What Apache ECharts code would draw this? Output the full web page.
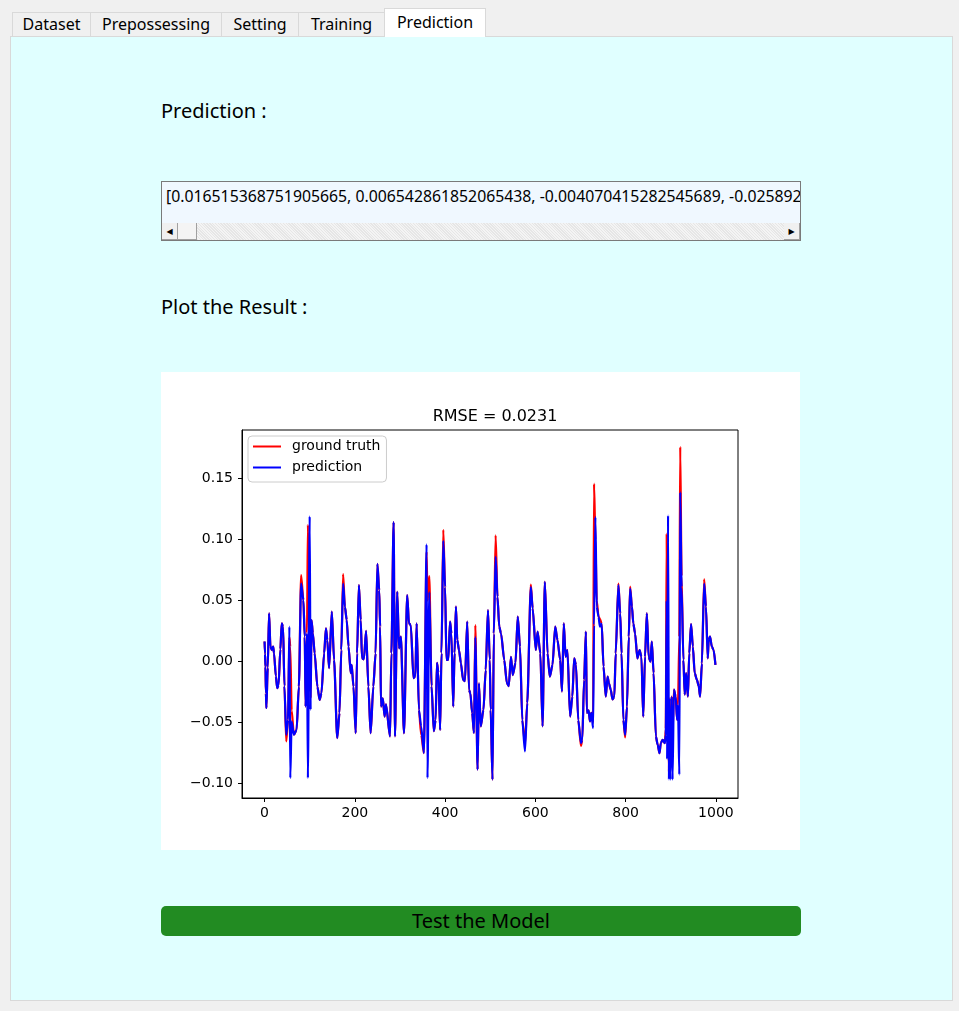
<!DOCTYPE html>
<html>
<head>
<meta charset="utf-8">
<script src="https://cdn.jsdelivr.net/npm/echarts@6/dist/echarts.min.js"></script>
<style>
  body { margin: 0; width: 959px; height: 1011px; background: #f0f0f0; position: relative; overflow: hidden;
         font-family: "Noto Sans", "DejaVu Sans", sans-serif; }
  .tab { position: absolute; top: 12px; height: 24px; box-sizing: border-box; border: 1px solid #d9d9d9; border-bottom: none;
         background: #f0f0f0; font-size: 16px; line-height: 22px; text-align: center; color: #000; }
  .tab.sel { top: 8px; height: 29px; background: #fff; line-height: 27px; z-index: 2; }
  #panel { position: absolute; left: 10px; top: 36px; width: 943px; height: 965px; box-sizing: border-box;
           background: #e0ffff; border: 1px solid #d9d9d9; }
  .lbl { position: absolute; left: 161px; font-size: 20px; line-height: 24px; color: #000; }
  #box { position: absolute; left: 161px; top: 181px; width: 640px; height: 60px; box-sizing: border-box;
         border: 1px solid #7a7a7a; background: #f0f8ff; overflow: hidden; }
  #box .txt { position: absolute; left: 4px; top: 4px; white-space: nowrap; font-size: 15.8px; line-height: 20px; color: #000; }
  #box .bar { position: absolute; left: 0; right: 0; bottom: 0; height: 17px;
              background: repeating-linear-gradient(45deg, #f4f4f4 0 1px, #e6e6e6 1px 2px); }
  #box .btn { position: absolute; bottom: 0; width: 16px; height: 17px; box-sizing: border-box; background: #f0f0f0;
              border-right: 1px solid #a0a0a0; border-bottom: 1px solid #a0a0a0; font-size: 8px; line-height: 16px; text-align: center; }
  #chart { position: absolute; left: 161px; top: 372px; width: 639px; height: 478px; background: #fff; }
  #test { position: absolute; left: 161px; top: 906px; width: 640px; height: 30px; background: #228b22; border-radius: 5px;
          font-size: 20px; line-height: 30px; text-align: center; color: #000; }
</style>
</head>
<body>
<div class="tab" style="left:12px;width:79px">Dataset</div>
<div class="tab" style="left:90px;width:132px">Prepossessing</div>
<div class="tab" style="left:221px;width:78px">Setting</div>
<div class="tab" style="left:298px;width:87px">Training</div>
<div class="tab sel" style="left:384px;width:102px">Prediction</div>
<div id="panel"></div>
<div class="lbl" style="top:99px">Prediction :</div>
<div id="box">
  <div class="txt">[0.016515368751905665, 0.006542861852065438, -0.004070415282545689, -0.025892</div>
  <div class="bar"></div>
  <div class="btn" style="left:0">&#9664;</div>
  <div class="btn" style="left:16px;width:19px;background:#f4f4f4"></div>
  <div class="btn" style="right:0">&#9654;</div>
</div>
<div class="lbl" style="top:295px">Plot the Result :</div>
<div id="chart"></div>
<div id="test">Test the Model</div>
<script>
// sample index of each knot
const xs = [
  0, 1, 2, 3, 4, 7, 10, 13, 16, 19,
  21, 25, 28, 31, 35, 38, 41, 44, 48, 52,
  55, 57, 60, 65, 71, 76, 81, 86, 89, 91,
  94, 96, 100, 102, 104, 107, 111, 117, 122, 126,
  132, 136, 139, 143, 149, 154, 161, 166, 170, 174,
  178, 182, 186, 191, 193, 197, 202, 205, 209, 213,
  216, 220, 225, 230, 235, 241, 246, 250, 254, 256,
  258, 262, 266, 269, 278, 281, 286, 289, 294, 298,
  302, 309, 316, 320, 324, 330, 334, 337, 342, 347,
  353, 359, 361, 365, 370, 375, 379, 382, 385, 389,
  392, 396, 400, 403, 407, 411, 414, 418, 421, 424,
  427, 431, 435, 440, 444, 449, 453, 456, 460, 464,
  467, 472, 475, 479, 485, 490, 495, 499, 501, 505,
  508, 512, 516, 520, 524, 531, 537, 541, 546, 550,
  556, 561, 566, 571, 577, 582, 590, 594, 601, 605,
  611, 616, 621, 627, 632, 638, 644, 649, 655, 659,
  663, 667, 671, 677, 682, 686, 690, 695, 701, 704,
  708, 712, 714, 718, 721, 724, 728, 730, 733, 736,
  740, 743, 747, 751, 756, 760, 763, 767, 771, 775,
  778, 784, 788, 791, 795, 799, 803, 807, 810, 814,
  817, 821, 826, 831, 835, 839, 843, 847, 851, 855,
  858, 862, 867, 871, 875, 878, 882, 887, 889, 891,
  892, 894, 896, 897, 899, 902, 904, 907, 911, 914,
  916, 919, 921, 924, 928, 931, 934, 938, 941, 945,
  949, 953, 958, 962, 965, 969, 974, 978, 982, 984,
  987, 991, 995, 999
];

const groundTruth = [
  0.0165, 0.0065, -0.0041, -0.0259, -0.038, -0.005, 0.0395, 0.0123, 0.0095, 0.0123,
  0.0068, -0.012, -0.0218, -0.0191, 0.010, 0.0313, 0.0286, -0.020, -0.0654, -0.0477,
  0.020, 0.012, -0.040, -0.0599, -0.0558, -0.0204, 0.0708, 0.0504, 0.0204, -0.0368,
  0.0231, 0.112, 0.040, -0.030, 0.0341, 0.0231, 0.0068, -0.0204, -0.0313, -0.0259,
  0.0068, 0.0272, 0.0177, -0.0054, 0.0409, 0.0014, -0.0626, -0.0422, 0.0095, 0.0716,
  0.045, 0.0341, 0.0123, -0.0095, -0.0027, -0.0204, -0.0586, 0.0068, 0.0627, 0.0341,
  0.0027, 0.0019, 0.0253, -0.0204, -0.0586, -0.0204, 0.0068, 0.0801, 0.0586, 0.0286,
  -0.0368, -0.03, -0.045, -0.035, -0.0613, 0.0068, 0.1143, -0.0613, 0.0572, 0.0109,
  0.0204, -0.0586, 0.0545, 0.0313, 0.030, -0.0136, -0.012, 0.0313, -0.0395, -0.060,
  -0.0749, 0.090, 0.050, 0.070, -0.020, -0.057, -0.048, -0.001, -0.009, -0.056,
  0.007, 0.108, 0.061, 0.0014, 0.0014, 0.0327, 0.023, -0.0368, 0.007, 0.045,
  0.0177, 0.009, -0.0014, -0.015, -0.016, 0.0327, -0.0231, -0.026, -0.042, -0.0586,
  0.030, -0.0885, -0.0177, -0.053, -0.0395, -0.0068, 0.0422, 0.0014, -0.0395, -0.0967,
  0.023, 0.1035, 0.053, 0.0286, 0.023, 0.0014, -0.0177, -0.020, 0.004, -0.011,
  -0.001, 0.0368, 0.012, -0.0477, -0.068, -0.034, 0.063, 0.0436, 0.0095, 0.0245,
  0.0068, -0.053, 0.0654, 0.0068, -0.0123, -0.0027, 0.0286, 0.0177, 0.0014, -0.0245,
  0.0313, 0.0041, 0.0095, -0.045, -0.0286, 0.0027, -0.0027, -0.0477, -0.069, -0.064,
  -0.015, 0.0245, -0.042, -0.040, -0.049, -0.042, -0.050, 0.1457, 0.100, 0.050,
  0.0368, 0.035, 0.031, -0.004, -0.0286, -0.0123, -0.0177, -0.023, -0.031, -0.0286,
  0.0068, 0.064, 0.0395, 0.0068, -0.0477, -0.062, -0.0368, 0.0204, 0.0615, 0.045,
  0.0313, 0.023, 0.0027, 0.0095, 0.004, -0.045, 0.004, 0.0395, 0.004, 0.000,
  0.0163, -0.0095, -0.0613, -0.068, -0.075, -0.0667, -0.064, -0.0667, -0.055, 0.1048,
  0.000, -0.040, -0.090, -0.030, -0.085, -0.0286, -0.060, -0.023, -0.0286, -0.0477,
  -0.036, 0.020, 0.176, 0.070, 0.0014, -0.027, -0.0095, -0.0286, 0.0068, 0.0308,
  0.0123, -0.0095, -0.015, -0.020, -0.0286, -0.0014, 0.0675, 0.045, 0.0027, 0.0177,
  0.0204, 0.0123, 0.0095, -0.0027
];

const prediction = [
  0.0165, 0.0065, -0.0041, -0.0259, -0.038, -0.005, 0.0395, 0.0123, 0.0095, 0.0123,
  0.0068, -0.012, -0.0218, -0.0191, 0.010, 0.0313, 0.0286, -0.020, -0.0599, -0.0477,
  0.0286, -0.0953, -0.049, -0.0599, -0.0558, -0.0204, 0.064, 0.0504, 0.0204, -0.0368,
  0.0231, -0.0953, 0.119, -0.0395, 0.0341, 0.0231, 0.0068, -0.0204, -0.0313, -0.0259,
  0.0068, 0.0272, 0.0177, -0.0054, 0.0409, 0.0014, -0.0626, -0.0422, 0.0095, 0.064,
  0.045, 0.0341, 0.0123, -0.0095, -0.0027, -0.0204, -0.0586, 0.0068, 0.0627, 0.0341,
  0.0027, 0.0019, 0.0253, -0.0204, -0.0586, -0.0204, 0.0068, 0.0801, 0.0586, 0.0286,
  -0.0368, -0.03, -0.045, -0.035, -0.0613, 0.0068, 0.1143, -0.0613, 0.0572, 0.0109,
  0.0204, -0.0586, 0.0545, 0.0313, 0.030, -0.0136, -0.012, 0.0313, -0.0395, -0.0531,
  -0.0749, 0.096, -0.0953, 0.057, -0.020, -0.057, -0.048, -0.001, -0.009, -0.056,
  0.007, 0.099, 0.061, 0.0014, 0.0014, 0.0327, 0.023, -0.0368, 0.007, 0.045,
  0.0177, 0.009, -0.0014, -0.015, -0.016, 0.0327, -0.0231, -0.026, -0.042, -0.0586,
  0.020, -0.0885, -0.0177, -0.053, -0.0395, -0.0068, 0.0422, 0.0014, -0.0395, -0.0967,
  0.023, 0.0858, 0.053, 0.0286, 0.023, 0.0014, -0.0177, -0.020, 0.004, -0.011,
  -0.001, 0.0368, 0.012, -0.0477, -0.0735, -0.034, 0.061, 0.0436, 0.0095, 0.0245,
  0.0068, -0.053, 0.0654, 0.0068, -0.0123, -0.0027, 0.0286, 0.0177, 0.0014, -0.0245,
  0.0313, 0.0041, 0.0095, -0.045, -0.0286, 0.0027, -0.0027, -0.0477, -0.0667, -0.064,
  -0.015, 0.0245, -0.042, -0.040, -0.049, -0.042, -0.0545, 0.030, 0.1185, 0.045,
  0.0368, 0.0286, 0.031, -0.004, -0.0286, -0.0123, -0.0177, -0.023, -0.031, -0.0286,
  0.0068, 0.0626, 0.0395, 0.0068, -0.0477, -0.060, -0.0368, 0.0204, 0.0599, 0.045,
  0.0313, 0.023, 0.0027, 0.0095, 0.004, -0.045, 0.004, 0.0395, 0.004, 0.000,
  0.0163, -0.0095, -0.0613, -0.068, -0.075, -0.0667, -0.064, -0.0667, -0.060, 0.050,
  -0.080, 0.1198, -0.0967, -0.030, -0.0967, -0.0286, -0.0967, -0.023, -0.0286, -0.0477,
  -0.036, -0.0926, 0.1389, 0.061, 0.0014, -0.027, -0.0095, -0.0286, 0.0068, 0.0308,
  0.0123, -0.0095, -0.015, -0.020, -0.0286, -0.0014, 0.064, 0.045, 0.0027, 0.0177,
  0.0204, 0.0123, 0.0095, -0.0027
];

const xTicks = [0, 200, 400, 600, 800, 1000];
const yTicks = [-0.10, -0.05, 0.00, 0.05, 0.10, 0.15];
const yTickLabels = ['\u22120.10', '\u22120.05', '0.00', '0.05', '0.10', '0.15'];

const font = 'DejaVu Sans';
const chart = echarts.init(document.getElementById('chart'), null, { renderer: 'canvas' });

chart.setOption({
  animation: false,
  backgroundColor: '#fff',
  title: {
    text: 'RMSE = 0.0231',
    left: 329, top: 32, textAlign: 'center',
    textStyle: { fontFamily: font, fontSize: 16, fontWeight: 'normal', color: '#000' }
  },
  legend: {
    orient: 'vertical', left: 87, top: 64,
    padding: [3, 6, 7, 5], itemGap: 6,
    itemWidth: 28, itemHeight: 2, icon: 'rect',
    backgroundColor: '#fff', borderColor: '#cccccc', borderWidth: 1, borderRadius: 4,
    textStyle: { fontFamily: font, fontSize: 14, color: '#000', lineHeight: 15, padding: [0, 0, 0, 6] },
    data: ['ground truth', 'prediction']
  },
  grid: {
    left: 81, top: 58, width: 496, height: 368,
    show: true, borderColor: '#000', borderWidth: 1, backgroundColor: '#fff'
  },
  xAxis: {
    type: 'value', min: -50, max: 1049,
    axisLine: { show: true, onZero: false, lineStyle: { color: '#000', width: 1 } },
    axisTick: { show: true, length: 4, lineStyle: { color: '#000' }, customValues: xTicks },
    axisLabel: {
      customValues: xTicks, margin: 8, fontFamily: font, fontSize: 14, color: '#000',
      formatter: v => String(v)
    },
    splitLine: { show: false }
  },
  yAxis: {
    type: 'value', min: -0.1117, max: 0.1897,
    axisLine: { show: true, onZero: false, lineStyle: { color: '#000', width: 1 } },
    axisTick: { show: true, length: 4, lineStyle: { color: '#000' }, customValues: yTicks },
    axisLabel: {
      customValues: yTicks, margin: 9, fontFamily: font, fontSize: 14, color: '#000',
      formatter: v => {
        const i = yTicks.findIndex(t => Math.abs(t - v) < 1e-6);
        return i >= 0 ? yTickLabels[i] : '';
      }
    },
    splitLine: { show: false }
  },
  series: [
    {
      name: 'ground truth', type: 'line', showSymbol: false, color: '#ff0000',
      smooth: 0.25, smoothMonotone: 'x',
      lineStyle: { width: 2.2, color: '#ff0000' },
      data: xs.map((x, i) => [x, groundTruth[i]])
    },
    {
      name: 'prediction', type: 'line', showSymbol: false, color: '#0000ff',
      smooth: 0.25, smoothMonotone: 'x',
      lineStyle: { width: 2.2, color: '#0000ff' },
      data: xs.map((x, i) => [x, prediction[i]])
    }
  ]
});
</script>
</body>
</html>
